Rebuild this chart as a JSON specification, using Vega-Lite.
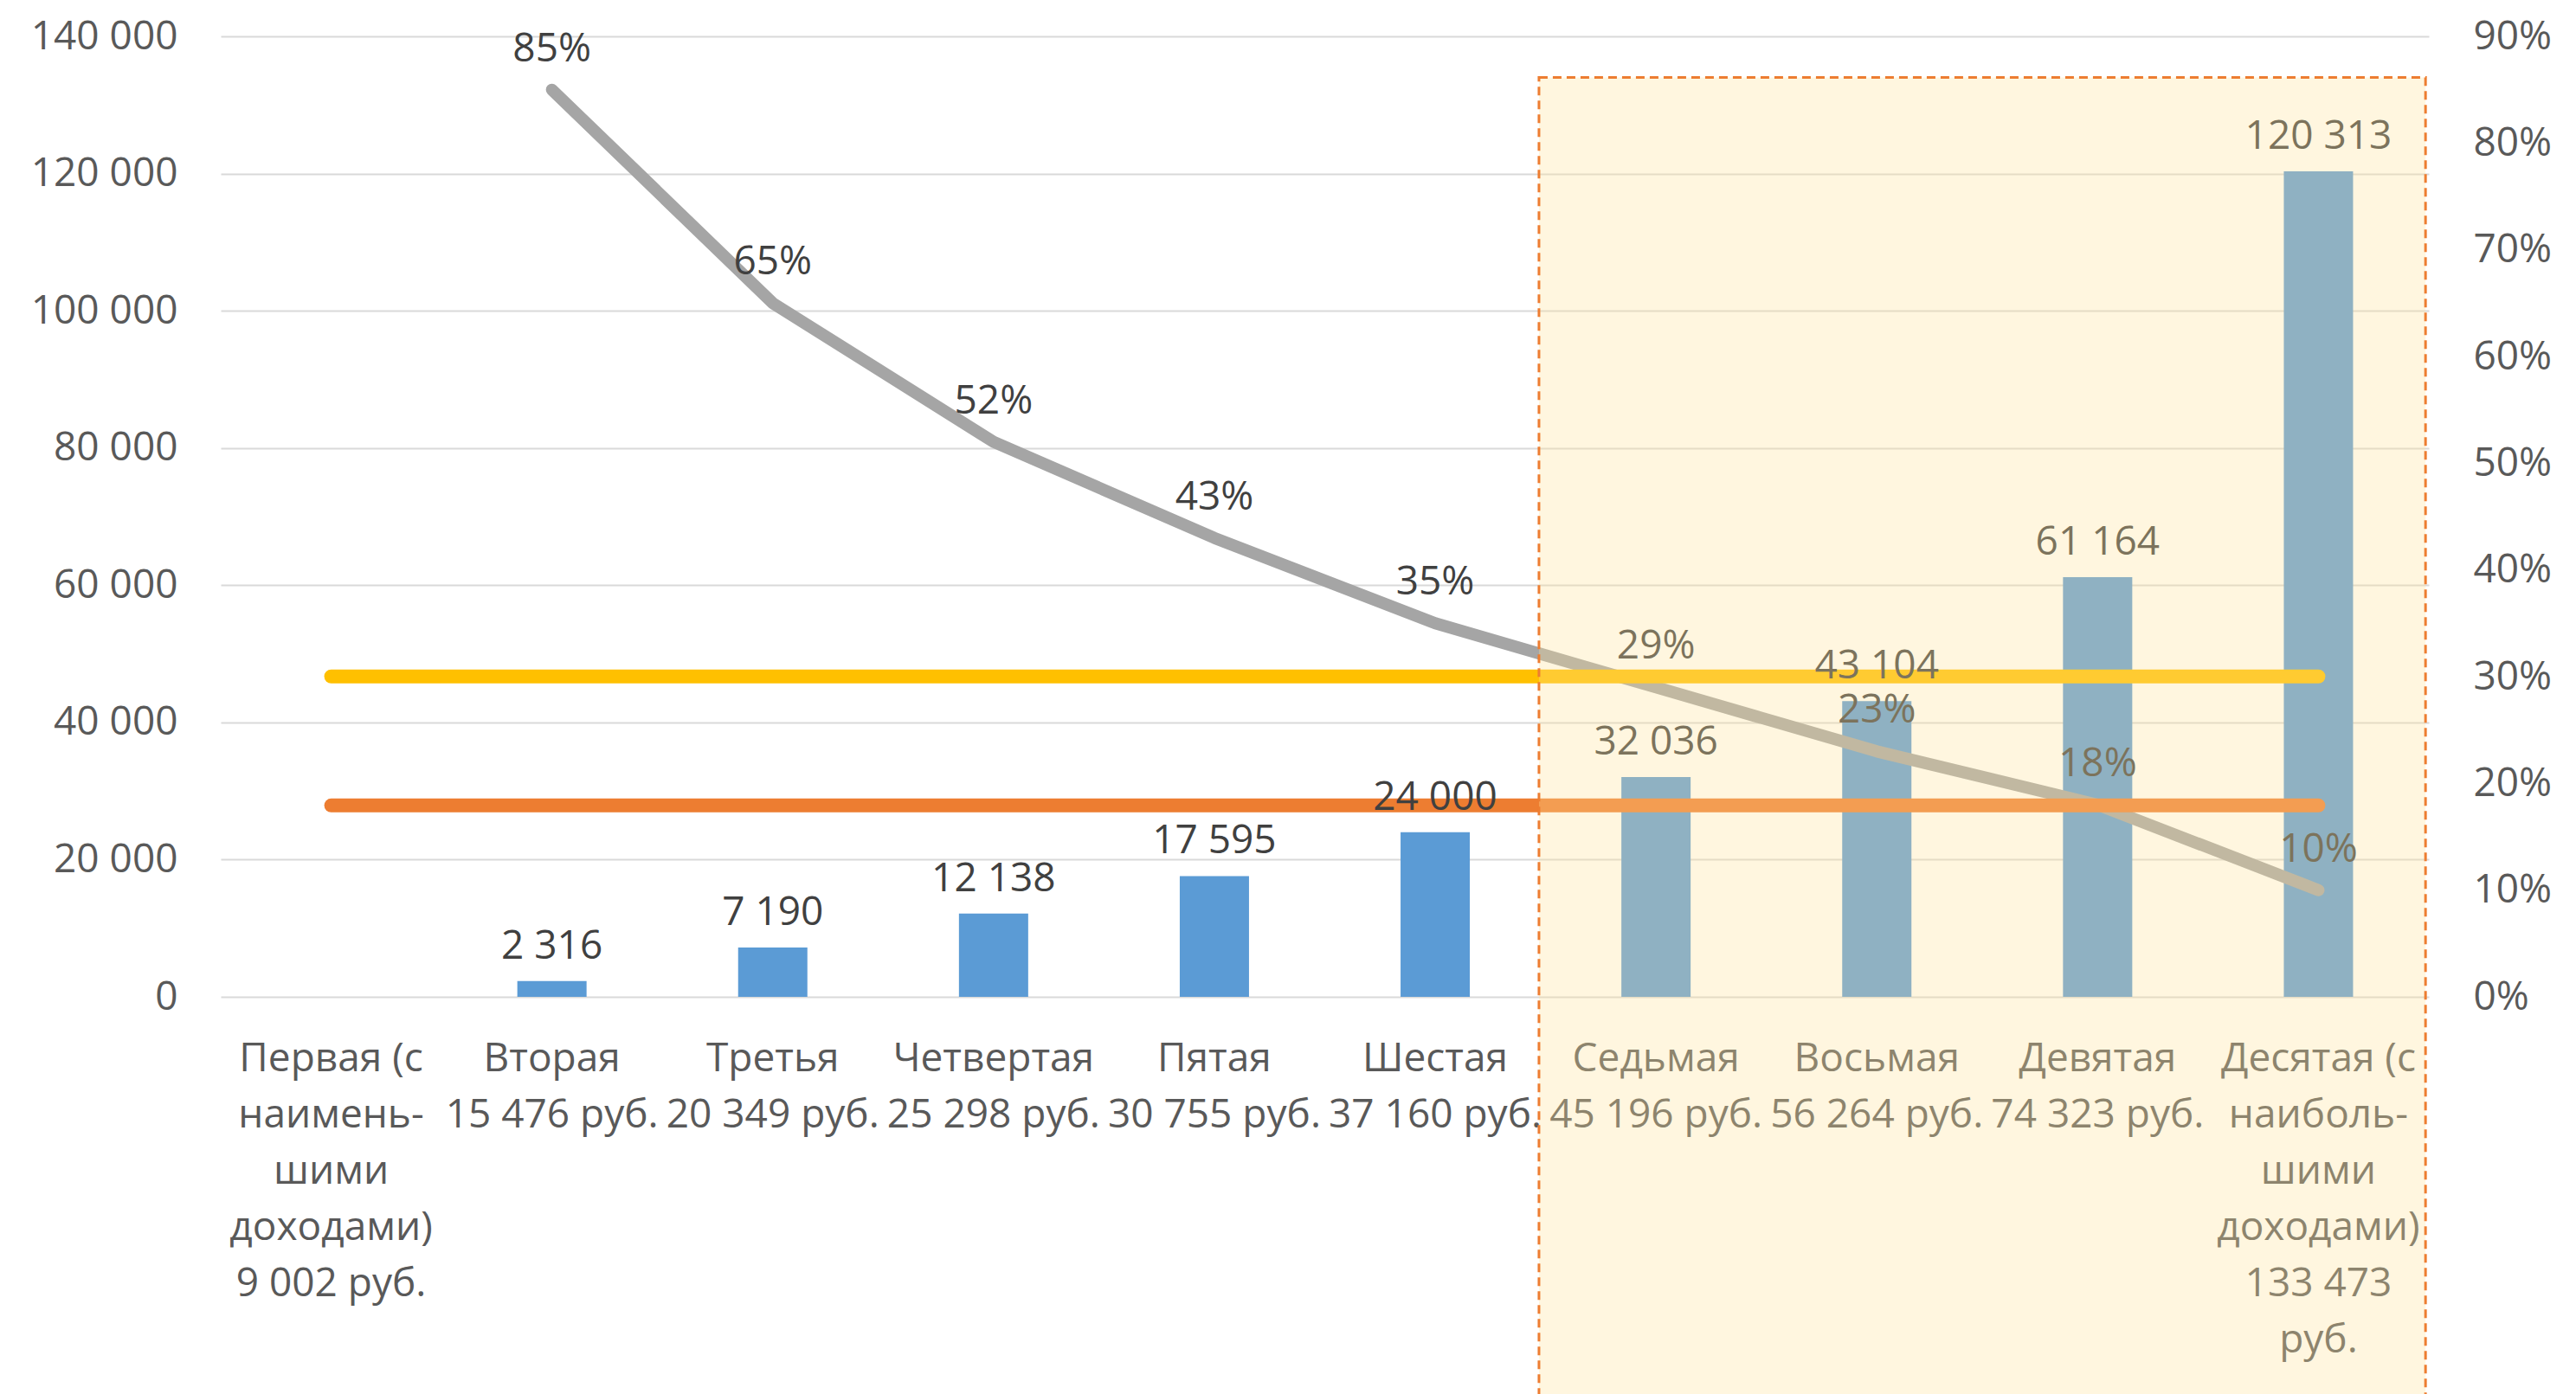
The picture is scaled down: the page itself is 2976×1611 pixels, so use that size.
{
  "$schema": "https://vega.github.io/schema/vega-lite/v6.json",
  "width": 2551,
  "height": 1110,
  "autosize": {"type": "none"},
  "padding": {"left": 255, "top": 42, "right": 170, "bottom": 459},
  "background": "white",
  "config": {
    "view": {"stroke": null},
    "font": "Open Sans",
    "locale": {"number": {"decimal": ",", "thousands": " ", "grouping": [3], "currency": ["", ""]}},
    "axis": {"labelFont": "Open Sans", "labelFontSize": 46, "labelColor": "#595959", "domain": false, "ticks": false, "labelLimit": 0}
  },
  "datasets": {
    "main": [
      {"cat": "Первая (с|наимень-|шими|доходами)|9 002 руб.", "bar": null, "pct": null, "avg": 46700, "median": 27900},
      {"cat": "Вторая|15 476 руб.", "bar": 2316, "pct": 0.85, "avg": 46700, "median": 27900},
      {"cat": "Третья|20 349 руб.", "bar": 7190, "pct": 0.65, "avg": 46700, "median": 27900},
      {"cat": "Четвертая|25 298 руб.", "bar": 12138, "pct": 0.52, "avg": 46700, "median": 27900},
      {"cat": "Пятая|30 755 руб.", "bar": 17595, "pct": 0.43, "avg": 46700, "median": 27900},
      {"cat": "Шестая|37 160 руб.", "bar": 24000, "pct": 0.35, "avg": 46700, "median": 27900},
      {"cat": "Седьмая|45 196 руб.", "bar": 32036, "pct": 0.29, "avg": 46700, "median": 27900},
      {"cat": "Восьмая|56 264 руб.", "bar": 43104, "pct": 0.23, "avg": 46700, "median": 27900},
      {"cat": "Девятая|74 323 руб.", "bar": 61164, "pct": 0.18, "avg": 46700, "median": 27900},
      {"cat": "Десятая (с|наиболь-|шими|доходами)|133 473|руб.", "bar": 120313, "pct": 0.10, "avg": 46700, "median": 27900}
    ],
    "zone": [
      {"start": "Седьмая|45 196 руб.", "end": "Десятая (с|наиболь-|шими|доходами)|133 473|руб.", "top": 134000, "bottom": -60000}
    ]
  },
  "data": {"name": "main"},
  "encoding": {
    "x": {
      "field": "cat",
      "type": "nominal",
      "sort": null,
      "scale": {
        "domain": ["Первая (с|наимень-|шими|доходами)|9 002 руб.", "Вторая|15 476 руб.", "Третья|20 349 руб.", "Четвертая|25 298 руб.", "Пятая|30 755 руб.", "Шестая|37 160 руб.", "Седьмая|45 196 руб.", "Восьмая|56 264 руб.", "Девятая|74 323 руб.", "Десятая (с|наиболь-|шими|доходами)|133 473|руб."],
        "paddingInner": 0,
        "paddingOuter": 0
      },
      "axis": {
        "title": null,
        "labelExpr": "split(datum.label, '|')",
        "labelAngle": 0,
        "labelLineHeight": 65,
        "labelPadding": 49,
        "labelOverlap": false,
        "labelBound": false,
        "labelBaseline": "top",
        "grid": false
      }
    }
  },
  "layer": [
    {
      "mark": {"type": "bar", "size": 80, "color": "#5B9BD5"},
      "encoding": {
        "y": {
          "field": "bar",
          "type": "quantitative",
          "scale": {"domain": [0, 140000], "nice": false},
          "axis": {
            "title": null,
            "orient": "left",
            "values": [0, 20000, 40000, 60000, 80000, 100000, 120000, 140000],
            "labelExpr": "datum.value == 0 ? '0' : format(datum.value / 1000, 'd') + ' 000'",
            "grid": true,
            "gridColor": "#D9D9D9",
            "gridWidth": 2,
            "labelPadding": 50
          }
        }
      }
    },
    {
      "encoding": {
        "y": {
          "field": "pct",
          "type": "quantitative",
          "scale": {"domain": [0, 0.9], "nice": false},
          "axis": {
            "title": null,
            "orient": "right",
            "values": [0, 0.1, 0.2, 0.3, 0.4, 0.5, 0.6, 0.7, 0.8, 0.9],
            "format": ".0%",
            "grid": false,
            "labelPadding": 51
          }
        }
      },
      "layer": [
        {
          "mark": {"type": "line", "color": "#A5A5A5", "strokeWidth": 14, "strokeCap": "round", "strokeJoin": "round"}
        },
        {
          "transform": [{"filter": "datum.pct != null"}],
          "mark": {"type": "text", "fontSize": 46, "color": "#404040", "baseline": "alphabetic", "dy": -33},
          "encoding": {"text": {"field": "pct", "type": "quantitative", "format": ".0%"}}
        }
      ]
    },
    {
      "layer": [
        {
          "mark": {"type": "line", "color": "#FFC000", "strokeWidth": 16, "strokeCap": "round"},
          "encoding": {"y": {"field": "avg", "type": "quantitative", "scale": {"domain": [0, 140000], "nice": false}, "axis": null}}
        },
        {
          "mark": {"type": "line", "color": "#ED7D31", "strokeWidth": 16, "strokeCap": "round"},
          "encoding": {"y": {"field": "median", "type": "quantitative", "scale": {"domain": [0, 140000], "nice": false}, "axis": null}}
        },
        {
          "transform": [{"filter": "datum.bar != null"}],
          "mark": {"type": "text", "fontSize": 46, "color": "#404040", "baseline": "alphabetic", "dy": -26},
          "encoding": {
            "y": {"field": "bar", "type": "quantitative", "scale": {"domain": [0, 140000], "nice": false}, "axis": null},
            "text": {"field": "bar", "type": "quantitative", "format": ","}
          }
        }
      ]
    },
    {
      "data": {"name": "zone"},
      "mark": {"type": "rect", "fill": "#FFE29A", "fillOpacity": 0.317, "stroke": "#ED7D31", "strokeWidth": 3, "strokeDash": [10, 6], "strokeOpacity": 1},
      "encoding": {
        "x": {"field": "start", "type": "nominal", "bandPosition": -0.03, "title": null},
        "x2": {"field": "end", "bandPosition": 0.985},
        "y": {"field": "top", "type": "quantitative", "scale": {"domain": [0, 140000], "nice": false}, "axis": null},
        "y2": {"field": "bottom"}
      }
    }
  ],
  "resolve": {"scale": {"y": "independent"}}
}
